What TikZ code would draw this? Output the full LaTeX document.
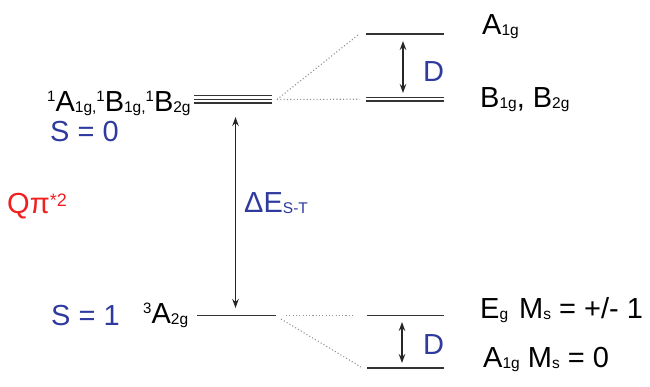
\documentclass[tikz,border=0pt]{standalone}
\usepackage{fontspec}
\setmainfont{Liberation Sans}
\usetikzlibrary{arrows.meta}
\definecolor{lvl}{HTML}{333333}
\definecolor{sblue}{HTML}{2E3A9E}
\definecolor{qred}{HTML}{F02020}
\newcommand{\sbx}[1]{{\fontsize{15.5}{16}\selectfont\raisebox{-1pt}{#1}}}
\newcommand{\spx}[1]{{\fontsize{15}{16}\selectfont\raisebox{10pt}{#1}}}
\begin{document}
\begin{tikzpicture}[x=1pt,y=-1pt,
  txt/.style={anchor=base west,inner sep=0pt,font=\fontsize{29}{32}\selectfont},
  level/.style={draw=lvl,line width=1.8pt},
  thinlevel/.style={draw=lvl,line width=1.3pt},
  link/.style={draw=gray!85,line width=1.1pt,dash pattern=on 1.1pt off 2.2pt},
  darrow/.style={draw=black!85,line width=1.5pt,{Stealth[length=9pt,width=6.5pt]}-{Stealth[length=9pt,width=6.5pt]}}]
\useasboundingbox (0,0) rectangle (650,387);
% singlet triple level
\foreach \yy in {95.7,99.3,103} \draw[thinlevel] (194,\yy) -- (272,\yy);
\coordinate (sR) at (277,99.5);
% upper right levels
\coordinate (a1L) at (366,34);
\coordinate (a1R) at (444,34);
\draw[level] (a1L) -- (a1R);
\draw[thinlevel] (366,97.5) -- (444,97.5);
\draw[thinlevel] (366,101) -- (444,101);
\draw[link] (sR) -- (358,35);
\draw[link] (sR) -- (360,99.2);
% D upper
\coordinate (du1) at (403,41);
\coordinate (du2) at (403,93);
\draw[darrow] (du1) -- (du2);
\node[anchor=west,inner sep=0pt,text=sblue,font=\fontsize{29}{32}\selectfont] (Du) at (423,72) {D};
% triplet level
\coordinate (tL) at (197,315.5);
\coordinate (tR) at (276,315.5);
\draw[level] (tL) -- (tR);
\draw[link] (286,315.5) -- (355,315.5);
\draw[link] (281,319) -- (361,367);
\draw[level] (367,315.5) -- (444,315.5);
\draw[level] (367,368) -- (444,368);
\draw[darrow] (402,322) -- (402,363);
\node[anchor=west,inner sep=0pt,text=sblue,font=\fontsize{29}{32}\selectfont] (Dl) at (423,345) {D};
% vertical S-T arrow
\coordinate (st1) at (235.5,117);
\coordinate (st2) at (235.5,308);
\draw[darrow] (st1) -- (st2);
% texts
\node[txt] (sing) at (47,112) {\spx{1}A\sbx{1g,}\spx{1}B\sbx{1g,}\spx{1}B\sbx{2g}};
\node[txt,text=sblue] (s0) at (50,142) {S = 0};
\node[txt,text=qred] (q) at (7,214) {Qπ{\fontsize{18}{18}\selectfont\raisebox{7pt}{*2}}};
\node[txt,text=sblue] (de) at (244,213) {ΔE\sbx{S-T}};
\node[txt,text=sblue] (s1) at (51,325) {S = 1};
\node[txt] (trip) at (143,323) {\spx{3}A\sbx{2g}};
\node[txt] (ta1) at (482,35) {A\sbx{1g}};
\node[txt] (tb) at (480,108) {B\sbx{1g}, B\sbx{2g}};
\node[txt] (te) at (480,318) {E\sbx{g}\hspace{11pt}M\sbx{s} = +/- 1};
\node[txt] (ta) at (483,367) {A\sbx{1g} M\sbx{s} = 0};
\end{tikzpicture}
\end{document}
